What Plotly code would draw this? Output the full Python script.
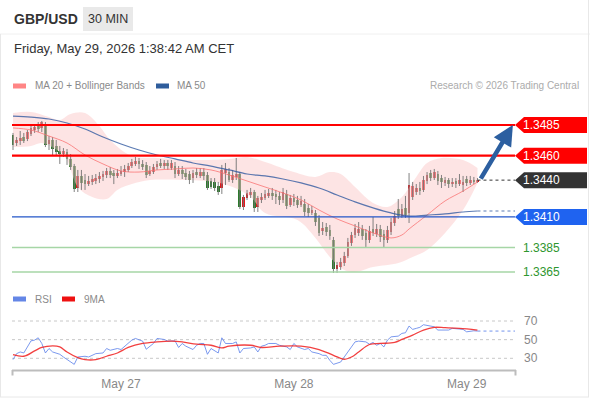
import plotly.graph_objects as go
import pandas as pd

# ---------------- DATA ----------------
start_time = "2026-05-26 09:00"

opens = [1.34768,1.34703,1.34719,1.34752,1.34736,1.34777,1.34809,1.34842,1.34826,1.34858,
         1.34695,1.34728,1.34679,1.34638,1.34613,1.34630,1.34573,1.34515,1.34336,1.34434,
         1.34401,1.34368,1.34385,1.34393,1.34409,1.34426,1.34442,1.34475,1.34458,1.34434,
         1.34450,1.34466,1.34483,1.34515,1.34532,1.34556,1.34532,1.34524,1.34450,1.34466,
         1.34507,1.34540,1.34515,1.34540,1.34499,1.34515,1.34450,1.34483,1.34458,1.34450,
         1.34417,1.34466,1.34434,1.34466,1.34442,1.34393,1.34385,1.34352,1.34336,1.34458,
         1.34466,1.34401,1.34426,1.34450,1.34181,1.34254,1.34279,1.34303,1.34181,1.34238,
         1.34254,1.34271,1.34295,1.34287,1.34271,1.34238,1.34287,1.34197,1.34254,1.34238,
         1.34197,1.34205,1.34173,1.34132,1.34132,1.34091,1.33985,1.34018,1.33993,1.33912,
         1.33675,1.33691,1.33724,1.33781,1.33887,1.33952,1.33969,1.34001,1.33969,1.33912,
         1.34001,1.33960,1.34001,1.33960,1.33912,1.33977,1.34050,1.34164,1.34107,1.34173,
         1.34132,1.34262,1.34303,1.34336,1.34320,1.34393,1.34458,1.34417,1.34450,1.34417,
         1.34377,1.34401,1.34368,1.34393,1.34368,1.34360,1.34409,1.34377,1.34401,1.34385]
highs = [1.34785,1.34752,1.34801,1.34785,1.34809,1.34842,1.34850,1.34874,1.34883,1.34874,
         1.34760,1.34752,1.34728,1.34679,1.34662,1.34654,1.34613,1.34532,1.34483,1.34483,
         1.34450,1.34434,1.34442,1.34450,1.34466,1.34475,1.34499,1.34507,1.34483,1.34491,
         1.34515,1.34524,1.34540,1.34573,1.34589,1.34581,1.34564,1.34548,1.34515,1.34532,
         1.34556,1.34573,1.34564,1.34564,1.34564,1.34548,1.34515,1.34515,1.34491,1.34475,
         1.34483,1.34499,1.34499,1.34499,1.34466,1.34417,1.34417,1.34385,1.34524,1.34540,
         1.34499,1.34483,1.34581,1.34466,1.34279,1.34320,1.34336,1.34320,1.34271,1.34295,
         1.34320,1.34328,1.34336,1.34320,1.34303,1.34336,1.34320,1.34279,1.34287,1.34271,
         1.34271,1.34246,1.34205,1.34189,1.34156,1.34115,1.34058,1.34050,1.34034,1.33936,
         1.33732,1.33765,1.33814,1.33928,1.33977,1.34042,1.34058,1.34034,1.34001,1.34026,
         1.34099,1.34042,1.34034,1.33993,1.34026,1.34091,1.34148,1.34246,1.34205,1.34271,
         1.34458,1.34385,1.34368,1.34385,1.34434,1.34466,1.34483,1.34491,1.34475,1.34442,
         1.34426,1.34417,1.34417,1.34417,1.34450,1.34434,1.34434,1.34434,1.34426,1.34417]
lows = [1.34646,1.34679,1.34687,1.34703,1.34719,1.34760,1.34785,1.34793,1.34793,1.34670,
        1.34646,1.34605,1.34605,1.34532,1.34589,1.34524,1.34483,1.34303,1.34303,1.34320,
        1.34320,1.34352,1.34360,1.34368,1.34377,1.34393,1.34417,1.34417,1.34368,1.34417,
        1.34434,1.34426,1.34466,1.34499,1.34515,1.34491,1.34483,1.34417,1.34434,1.34450,
        1.34483,1.34499,1.34491,1.34483,1.34483,1.34417,1.34434,1.34409,1.34401,1.34368,
        1.34377,1.34417,1.34417,1.34401,1.34320,1.34328,1.34311,1.34279,1.34287,1.34360,
        1.34385,1.34377,1.34401,1.34164,1.34156,1.34238,1.34254,1.34140,1.34140,1.34213,
        1.34238,1.34254,1.34238,1.34205,1.34197,1.34213,1.34164,1.34181,1.34189,1.34173,
        1.34181,1.34107,1.34099,1.34115,1.34026,1.33944,1.33952,1.33944,1.33912,1.33642,
        1.33642,1.33667,1.33699,1.33765,1.33863,1.33928,1.33944,1.33912,1.33846,1.33887,
        1.33944,1.33936,1.33895,1.33846,1.33887,1.33952,1.34026,1.34083,1.34091,1.34091,
        1.34050,1.34238,1.34279,1.34279,1.34303,1.34368,1.34393,1.34401,1.34360,1.34336,
        1.34352,1.34336,1.34344,1.34336,1.34352,1.34303,1.34352,1.34360,1.34368,1.34377]
closes = [1.34687,1.34728,1.34744,1.34719,1.34793,1.34826,1.34834,1.34817,1.34874,1.34687,
          1.34728,1.34654,1.34630,1.34613,1.34638,1.34573,1.34507,1.34328,1.34434,1.34377,
          1.34368,1.34393,1.34409,1.34417,1.34434,1.34450,1.34475,1.34442,1.34434,1.34458,
          1.34475,1.34491,1.34515,1.34548,1.34556,1.34532,1.34507,1.34442,1.34475,1.34507,
          1.34532,1.34515,1.34540,1.34515,1.34540,1.34450,1.34483,1.34450,1.34426,1.34401,
          1.34458,1.34442,1.34466,1.34434,1.34336,1.34344,1.34336,1.34303,1.34483,1.34491,
          1.34401,1.34442,1.34450,1.34181,1.34262,1.34295,1.34303,1.34173,1.34254,1.34262,
          1.34287,1.34295,1.34271,1.34262,1.34238,1.34303,1.34189,1.34254,1.34222,1.34197,
          1.34230,1.34140,1.34132,1.34156,1.34058,1.33969,1.34009,1.33977,1.33944,1.33675,
          1.33707,1.33732,1.33781,1.33895,1.33952,1.34009,1.34001,1.33944,1.33912,1.33985,
          1.33969,1.34001,1.33936,1.33912,1.33993,1.34058,1.34107,1.34107,1.34164,1.34115,
          1.34360,1.34352,1.34336,1.34311,1.34401,1.34442,1.34417,1.34466,1.34393,1.34385,
          1.34401,1.34368,1.34385,1.34368,1.34401,1.34385,1.34377,1.34401,1.34385,1.34401]

ma50_idx = [0, 5, 10, 15, 20, 25, 30, 35, 40, 45, 50, 55, 60, 65, 70, 75, 80, 85, 90, 95,
            100, 105, 110, 115, 120, 125, 129]
ma50 = [1.34923, 1.34915, 1.34899, 1.34866, 1.34817, 1.34752, 1.34695, 1.34646, 1.34605,
        1.34573, 1.34540, 1.34515, 1.34483, 1.34450, 1.34434, 1.34409, 1.34377, 1.34336,
        1.34279, 1.34222, 1.34173, 1.34132, 1.34107, 1.34115, 1.34124, 1.34140, 1.34148]

ma20_idx = [0, 5, 10, 15, 20, 25, 30, 35, 40, 45, 50, 55, 60, 65, 70, 75, 80, 85, 90, 95,
            100, 105, 108, 110, 115, 120, 125, 129]
ma20 = [1.34826, 1.34809, 1.34760, 1.34703, 1.34605, 1.34532, 1.34475, 1.34466, 1.34483,
        1.34491, 1.34499, 1.34483, 1.34442, 1.34393, 1.34344, 1.34295, 1.34238, 1.34156,
        1.34083, 1.34026, 1.33969, 1.33928, 1.33952, 1.34001, 1.34115, 1.34230, 1.34311,
        1.34385]

bb_up_idx = [0, 5, 10, 13, 16, 20, 24, 27, 33, 40, 50, 60, 65, 70, 78, 84, 88, 91, 95,
             100, 104, 108, 112, 115, 119, 125, 129]
bb_up = [1.34948, 1.34956, 1.34915, 1.34891, 1.34940, 1.34948, 1.34842, 1.34728, 1.34597,
         1.34581, 1.34564, 1.34573, 1.34589, 1.34548, 1.34466, 1.34426, 1.34466, 1.34450,
         1.34344, 1.34213, 1.34181, 1.34262, 1.34426, 1.34540, 1.34581, 1.34564, 1.34499]

bb_lo_idx = [0, 5, 8, 13, 15, 18, 22, 26, 29, 33, 38, 47, 56, 61, 66, 70, 79, 84, 88, 92,
             95, 100, 107, 111, 115, 120, 125, 129]
bb_lo = [1.34670, 1.34679, 1.34703, 1.34630, 1.34564, 1.34344, 1.34262, 1.34246, 1.34320,
         1.34368, 1.34401, 1.34401, 1.34385, 1.34344, 1.34262, 1.34132, 1.34075, 1.33928,
         1.33773, 1.33667, 1.33650, 1.33691, 1.33724, 1.33773, 1.33830, 1.33969, 1.34156,
         1.34377]

rsi_idx = [0, 1, 2, 3, 5, 6, 7, 8, 9, 10, 11, 13, 14, 16, 17, 18, 20, 21, 23, 25, 26, 27,
           29, 30, 32, 33, 34, 36, 37, 39, 40, 42, 43, 45, 46, 47, 48, 50, 51, 52, 53, 54,
           55, 57, 58, 59, 61, 62, 63, 64, 66, 67, 68, 69, 70, 71, 73, 74, 76, 77, 78, 79,
           81, 82, 83, 85, 86, 87, 88, 89, 91, 92, 94, 95, 96, 98, 99, 100, 101, 102, 103,
           104, 105, 107, 108, 109, 110, 111, 112, 113, 114, 115, 117, 118, 120, 121, 122,
           124, 125, 126, 128, 129]
rsi = [28.6, 35.0, 36.8, 35.7, 48.7, 49.5, 52.0, 45.9, 35.7, 40.5, 36.8, 34.3, 31.4, 26.0,
       23.5, 31.4, 32.2, 31.4, 35.0, 35.7, 40.5, 38.6, 40.5, 39.4, 46.5, 49.5, 51.3, 48.4,
       39.7, 45.9, 51.3, 50.2, 48.4, 48.7, 41.6, 45.9, 43.0, 39.4, 44.0, 45.9, 45.9, 34.3,
       40.5, 35.7, 52.0, 45.9, 45.9, 47.6, 35.7, 40.5, 41.1, 42.2, 36.8, 43.0, 44.0, 45.9,
       45.9, 44.0, 42.2, 39.4, 45.9, 42.2, 39.4, 40.5, 36.8, 35.0, 33.2, 33.2, 27.8, 23.5,
       26.0, 31.4, 42.2, 47.6, 48.4, 47.6, 45.1, 47.0, 44.0, 45.9, 42.2, 49.5, 53.0, 53.8,
       56.7, 57.4, 64.6, 61.0, 62.1, 63.2, 66.0, 65.3, 63.8, 60.3, 60.3, 60.3, 62.1, 61.0,
       61.0, 58.4, 59.5, 59.2]

rsi_ma_idx = [0, 3, 6, 8, 11, 13, 15, 18, 20, 23, 26, 29, 32, 36, 40, 44, 47, 51, 55, 58,
              60, 66, 69, 74, 80, 85, 89, 92, 94, 96, 99, 102, 106, 108, 111, 114, 117, 120,
              124, 129]
rsi_ma = [34.0, 32.2, 37.9, 41.6, 43.3, 42.2, 36.8, 30.7, 28.6, 28.6, 32.2, 35.7, 41.6, 45.9,
          47.6, 48.4, 47.6, 45.1, 44.0, 41.1, 43.0, 44.0, 41.6, 43.0, 43.0, 39.4, 33.2, 28.9,
          31.4, 36.8, 44.8, 45.9, 47.0, 50.2, 54.9, 60.3, 63.2, 62.8, 62.1, 60.3]

levels = [1.3485, 1.3460, 1.3440, 1.3410, 1.3385, 1.3365]
level_text = ["1.3485", "1.3460", "1.3440", "1.3410", "1.3385", "1.3365"]

arrow_start_time = "2026-05-29 01:50"
arrow_end_time = "2026-05-29 06:25"
arrow_target = 1.3485

tick_vals = ["2026-05-27", "2026-05-28", "2026-05-29"]
tick_text = ["May 27", "May 28", "May 29"]
rsi_grid = [70, 50, 30]

# ---------------- LAYOUT HELPERS ----------------
W, H = 590, 400
PL, PR, PT, PB = 12, 516, 108, 371
FONT = "Liberation Sans, Arial, sans-serif"


def px(x):
    return (x - PL) / (PR - PL)


def py(y):
    return (PB - y) / (PB - PT)


times = pd.date_range(start_time, periods=len(closes), freq="30min")
step = pd.Timedelta("30min")
x_lo = times[0] - 0.28 * step
x_hi = times[0] + 139.7 * step


def t_at(xpix):
    return x_lo + (xpix - PL) / (PR - PL) * (x_hi - x_lo)


# price <-> pixel (main panel)
Y_TOP_LEVEL, Y_BOT_LEVEL = 125.0, 272.0
pscale = (levels[0] - levels[-1]) / (Y_BOT_LEVEL - Y_TOP_LEVEL)
MAIN_TOP, MAIN_BOT = 108, 283
main_range = [levels[0] - (MAIN_BOT - Y_TOP_LEVEL) * pscale,
              levels[0] + (Y_TOP_LEVEL - MAIN_TOP) * pscale]


def ypix(price):
    return Y_TOP_LEVEL + (levels[0] - price) / pscale


RSI_TOP = 300
rscale = 40 / (358.3 - 321.0)
rsi_range = [30 - (PB - 358.3) * rscale, 70 + (321.0 - RSI_TOP) * rscale]

RED_UP = "#e3171c"
GREEN_DN = "#2c7a2c"

fig = go.Figure()

# Bollinger band fill
fig.add_trace(go.Scatter(x=times[bb_up_idx], y=bb_up, mode="lines",
                         line=dict(width=0, shape="spline", smoothing=1.0),
                         hoverinfo="skip", showlegend=False))
fig.add_trace(go.Scatter(x=times[bb_lo_idx], y=bb_lo, mode="lines", fill="tonexty",
                         fillcolor="rgba(252,205,205,0.55)",
                         line=dict(width=0, shape="spline", smoothing=1.0),
                         hoverinfo="skip", showlegend=False))

# wicks
wx, wy = [], []
for t, h, l in zip(times, highs, lows):
    wx += [t, t, None]
    wy += [h, l, None]
fig.add_trace(go.Scatter(x=wx, y=wy, mode="lines", line=dict(color="rgba(115,115,115,0.9)", width=1),
                         hoverinfo="skip", showlegend=False))

# bodies
body_colors = [RED_UP if c >= o else GREEN_DN for o, c in zip(opens, closes)]
fig.add_trace(go.Bar(x=times, y=[c - o for o, c in zip(opens, closes)], base=opens,
                     width=0.75 * step.total_seconds() * 1000,
                     marker=dict(color=body_colors, line=dict(width=0)),
                     hoverinfo="skip", showlegend=False))

# moving averages
fig.add_trace(go.Scatter(x=times[ma20_idx], y=ma20, mode="lines",
                         line=dict(color="rgba(250,110,110,0.75)", width=1, shape="spline"),
                         hoverinfo="skip", showlegend=False))
fig.add_trace(go.Scatter(x=times[ma50_idx], y=ma50, mode="lines",
                         line=dict(color="rgba(50,90,160,0.8)", width=1.2, shape="spline"),
                         hoverinfo="skip", showlegend=False))
# dotted extensions
fig.add_trace(go.Scatter(x=[times[ma50_idx[-1]], t_at(515)], y=[ma50[-1], ma50[-1]], mode="lines",
                         line=dict(color="rgba(50,90,160,0.8)", width=1.2, dash="dot"),
                         hoverinfo="skip", showlegend=False))
fig.add_trace(go.Scatter(x=[times[-1], t_at(515)], y=[levels[2], levels[2]], mode="lines",
                         line=dict(color="#333333", width=1, dash="dot"),
                         hoverinfo="skip", showlegend=False))

# RSI
fig.add_trace(go.Scatter(x=times[rsi_idx], y=rsi, mode="lines", yaxis="y2",
                         line=dict(color="rgba(100,135,235,0.85)", width=1),
                         hoverinfo="skip", showlegend=False))
fig.add_trace(go.Scatter(x=times[rsi_ma_idx], y=rsi_ma, mode="lines", yaxis="y2",
                         line=dict(color="rgba(240,30,30,0.85)", width=1.3, shape="spline"),
                         hoverinfo="skip", showlegend=False))
fig.add_trace(go.Scatter(x=[times[rsi_idx[-1]], t_at(515)], y=[rsi[-1], rsi[-1]], mode="lines",
                         yaxis="y2", line=dict(color="rgba(100,135,235,0.9)", width=1, dash="dot"),
                         hoverinfo="skip", showlegend=False))

shapes = []
annotations = []

# horizontal levels
level_line = {0: ("#ff0000", 2.2), 1: ("#ff0000", 2.2), 3: ("#2356c8", 1.2),
              4: ("#a6d6a6", 1.3), 5: ("#a6d6a6", 1.3)}
for k, (c, w) in level_line.items():
    shapes.append(dict(type="line", xref="paper", yref="y", x0=0, x1=px(515),
                       y0=levels[k], y1=levels[k], line=dict(color=c, width=w), layer="above"))

# tags
tag_fill = {0: "#ff0000", 1: "#ff0000", 2: "#333333", 3: "#1f63f0"}
for k in range(len(levels)):
    yc = ypix(levels[k])
    if k in tag_fill:
        path = "M {},{} L {},{} L {},{} L {},{} L {},{} Z".format(
            px(515), py(yc), px(524), py(yc - 8), px(587), py(yc - 8),
            px(587), py(yc + 8), px(524), py(yc + 8))
        shapes.append(dict(type="path", xref="paper", yref="paper", path=path,
                           fillcolor=tag_fill[k], line=dict(width=0)))
        col = "white"
    else:
        col = "#2e962e"
    annotations.append(dict(xref="paper", yref="paper", x=px(541), y=py(yc), text=level_text[k],
                            showarrow=False, xanchor="center", yanchor="middle",
                            font=dict(family=FONT, size=12, color=col)))

# arrow
annotations.append(dict(xref="x", yref="y", axref="x", ayref="y",
                        x=pd.Timestamp(arrow_end_time), y=arrow_target,
                        ax=pd.Timestamp(arrow_start_time), ay=levels[2],
                        showarrow=True, arrowhead=2, arrowsize=0.9, arrowwidth=4.5,
                        arrowcolor="#2c5fa0", text="", standoff=0))

# RSI grid
for v in rsi_grid:
    shapes.append(dict(type="line", xref="paper", yref="y2", x0=0, x1=px(516), y0=v, y1=v,
                       line=dict(color="#c8c8c8", width=1, dash="dot"), layer="below"))
    annotations.append(dict(xref="paper", yref="y2", x=px(531), y=v, text=str(v), showarrow=False,
                            xanchor="center", yanchor="middle",
                            font=dict(family=FONT, size=12, color="#888888")))

# x axis line + end ticks
shapes.append(dict(type="line", xref="paper", yref="paper", x0=0, x1=1, y0=py(370.5), y1=py(370.5),
                   line=dict(color="#bdbdbd", width=2)))
for xe in (PL + 0.5, PR - 0.5):
    shapes.append(dict(type="line", xref="paper", yref="paper", x0=px(xe), x1=px(xe),
                       y0=py(370), y1=py(375.5), line=dict(color="#bdbdbd", width=2)))

# header
shapes.append(dict(type="rect", xref="paper", yref="paper", x0=px(83), x1=px(133),
                   y0=py(31), y1=py(7), fillcolor="#e9e9e9", line=dict(width=0)))
shapes.append(dict(type="line", xref="paper", yref="paper", x0=px(0), x1=px(590),
                   y0=py(34), y1=py(34), line=dict(color="#f0f0f0", width=1)))
# border
for (x0, y0, x1, y1) in [(0.5, 34, 0.5, 397), (588.5, 0, 588.5, 397), (0, 397, 589, 397)]:
    shapes.append(dict(type="line", xref="paper", yref="paper", x0=px(x0), x1=px(x1),
                       y0=py(y0), y1=py(y1), line=dict(color="#e8e8e8", width=1)))

annotations += [
    dict(xref="paper", yref="paper", x=px(12), y=py(19), text="<b>GBP/USD</b>", showarrow=False,
         xanchor="left", yanchor="middle", font=dict(family=FONT, size=14, color="#333333")),
    dict(xref="paper", yref="paper", x=px(108), y=py(19), text="30 MIN", showarrow=False,
         xanchor="center", yanchor="middle", font=dict(family=FONT, size=12.5, color="#333333")),
    dict(xref="paper", yref="paper", x=px(12), y=py(48), text="Friday, May 29, 2026 1:38:42 AM CET",
         showarrow=False, xanchor="left", yanchor="middle",
         font=dict(family=FONT, size=13, color="#333333")),
    dict(xref="paper", yref="paper", x=px(33), y=py(86), text="MA 20 + Bollinger Bands",
         showarrow=False, xanchor="left", yanchor="middle",
         font=dict(family=FONT, size=10, color="#8a8a8a")),
    dict(xref="paper", yref="paper", x=px(175), y=py(86), text="MA 50",
         showarrow=False, xanchor="left", yanchor="middle",
         font=dict(family=FONT, size=10, color="#8a8a8a")),
    dict(xref="paper", yref="paper", x=px(581), y=py(86), text="Research © 2026 Trading Central",
         showarrow=False, xanchor="right", yanchor="middle",
         font=dict(family=FONT, size=10, color="#ababab")),
    dict(xref="paper", yref="paper", x=px(33), y=py(299), text="RSI",
         showarrow=False, xanchor="left", yanchor="middle",
         font=dict(family=FONT, size=10, color="#8a8a8a")),
    dict(xref="paper", yref="paper", x=px(82), y=py(299), text="9MA",
         showarrow=False, xanchor="left", yanchor="middle",
         font=dict(family=FONT, size=10, color="#8a8a8a")),
]
# legend swatches
for (x0, x1, yc, c) in [(13, 26, 86, "#ff8585"), (156, 169, 86, "#2f5d9c"),
                        (13, 26, 299, "#6486e6"), (62, 75, 299, "#ee1111")]:
    shapes.append(dict(type="rect", xref="paper", yref="paper", x0=px(x0), x1=px(x1),
                       y0=py(yc + 2.5), y1=py(yc - 2.5), fillcolor=c, line=dict(width=0)))

fig.update_layout(
    width=W, height=H, autosize=False,
    margin=dict(l=PL, r=W - PR, t=PT, b=H - PB, pad=0, autoexpand=False),
    paper_bgcolor="white", plot_bgcolor="white",
    barmode="overlay", bargap=0,
    showlegend=False,
    font=dict(family=FONT),
    xaxis=dict(type="date", range=[x_lo, x_hi], anchor="y2", showgrid=False, zeroline=False,
               showline=False, ticks="outside", ticklen=2, tickcolor="rgba(0,0,0,0)",
               automargin=False,
               tickvals=tick_vals, ticktext=tick_text,
               tickfont=dict(family=FONT, size=12, color="#888888"), fixedrange=True),
    yaxis=dict(domain=[py(MAIN_BOT), 1], range=main_range, visible=False, fixedrange=True,
               automargin=False),
    yaxis2=dict(domain=[0, py(RSI_TOP)], range=rsi_range, visible=False, fixedrange=True,
                automargin=False),
    shapes=shapes, annotations=annotations,
)

fig.write_html("out.html", config={"displayModeBar": False},
               post_script="document.body.style.margin='0';document.body.style.overflow='hidden';")
